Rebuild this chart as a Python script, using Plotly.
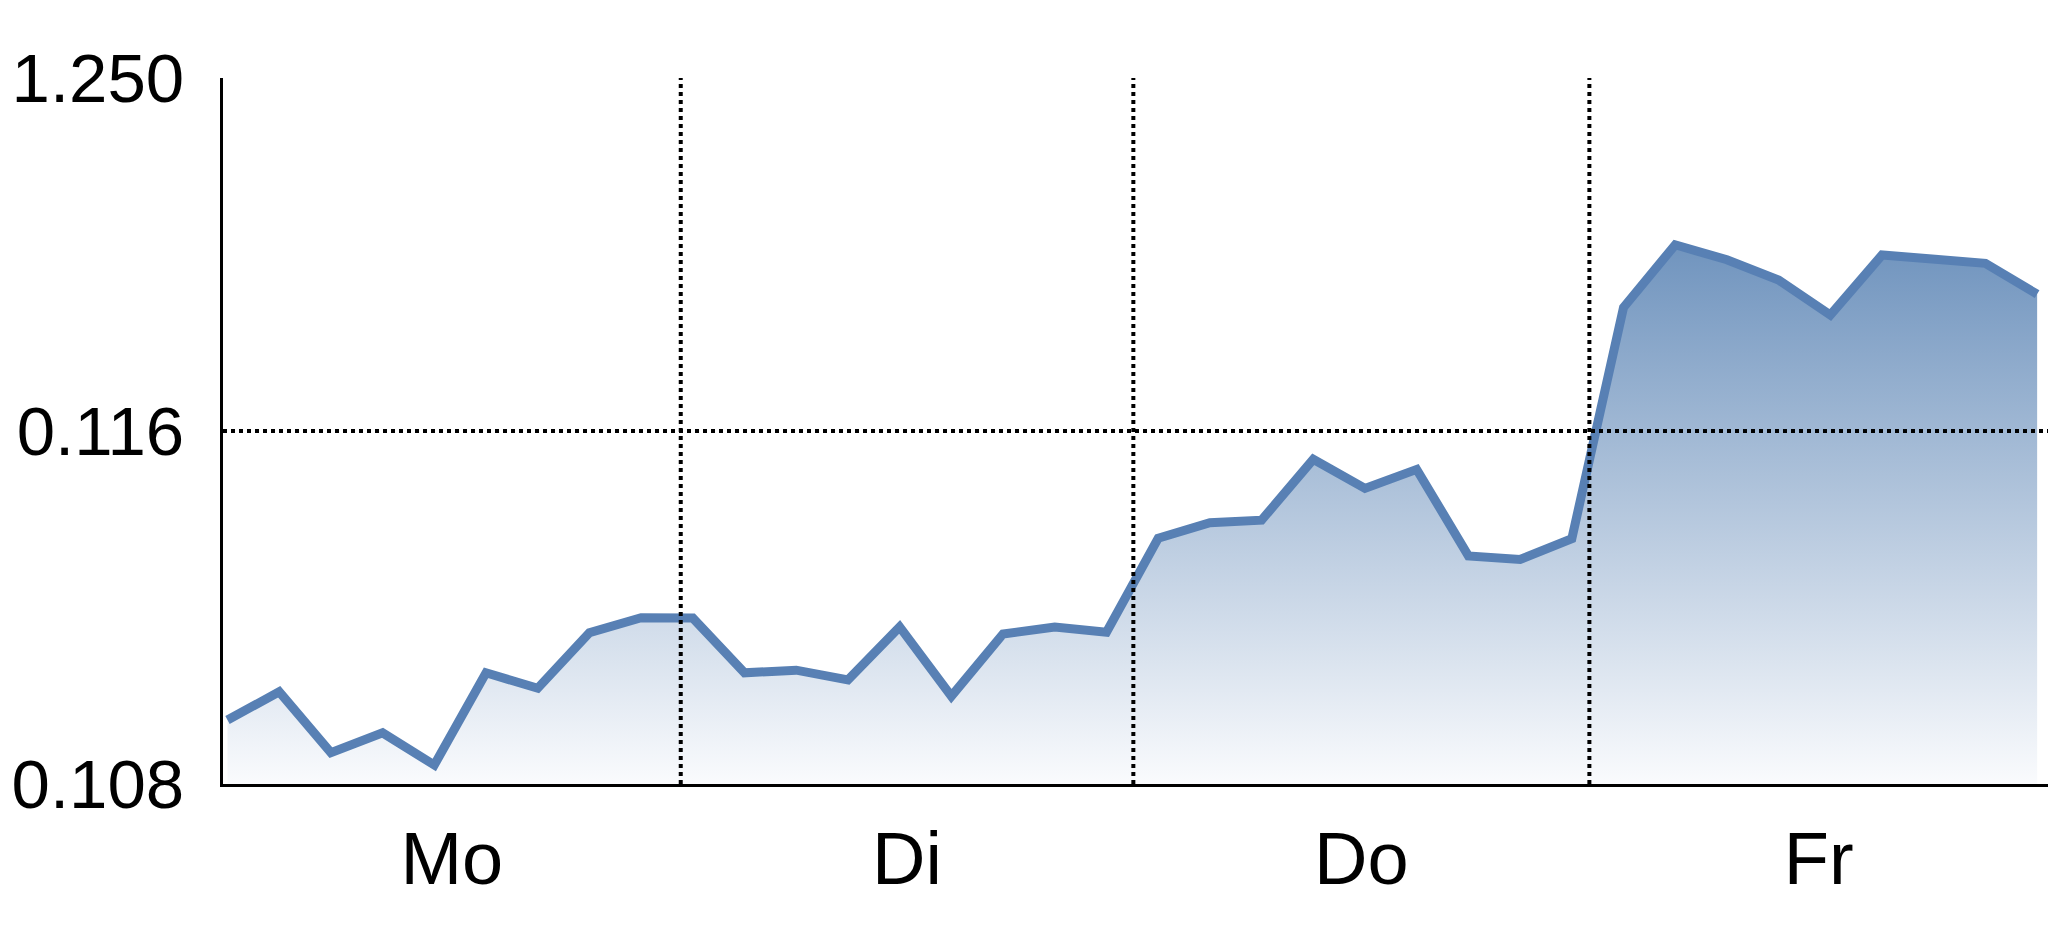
import plotly.graph_objects as go

# ---- data ----
values = [0.10945, 0.11009, 0.10871, 0.10916, 0.10843, 0.11052, 0.11017, 0.11143, 0.11177,
          0.11176, 0.11052, 0.11058, 0.11036, 0.11156, 0.10999, 0.11140, 0.11156, 0.11144,
          0.11357, 0.11392, 0.11398, 0.11536, 0.11470, 0.11513, 0.11317, 0.11309, 0.11356,
          0.11880, 0.12022, 0.11988, 0.11942, 0.11863, 0.11999, 0.11988, 0.11980, 0.11910]
x_index = list(range(len(values)))
day_labels = ["Mo", "Di", "Do", "Fr"]
day_bounds = [-0.087, 8.766, 17.52, 26.34, 35.21]   # section edges in point-index units
y_tick_vals = [0.108, 0.116, 0.124]
y_tick_text = ["0.108", "0.116", "1.250"]
y_min, y_max = 0.108, 0.124
grid_y = 0.116

line_color = "rgb(88,128,180)"
font_family = "Liberation Sans Narrow, Arial Narrow, Liberation Sans, Arial, sans-serif"

day_centers = [(day_bounds[i] + day_bounds[i + 1]) / 2 for i in range(len(day_labels))]

fig = go.Figure()
fig.add_trace(go.Scatter(
    x=x_index, y=values, mode="lines",
    line=dict(color=line_color, width=9),
    fill="tozeroy",
    fillgradient=dict(
        type="vertical",
        colorscale=[[0, "rgba(250,251,253,1)"], [1, "rgba(112,148,190,1)"]],
        start=y_min, stop=max(values),
    ),
    hoverinfo="skip", showlegend=False,
))

dot_line = dict(color="black", width=4, dash="4px,4px")
shapes = []
for b in day_bounds[1:-1]:
    shapes.append(dict(type="line", xref="x", yref="y", x0=b, x1=b, y0=y_min, y1=y_max,
                       line=dot_line, layer="above"))
shapes.append(dict(type="line", xref="paper", yref="y", x0=0, x1=1, y0=grid_y, y1=grid_y,
                   line=dot_line, layer="above"))

fig.update_layout(
    width=2048, height=937,
    margin=dict(l=223, r=0, t=78, b=153, autoexpand=False),
    paper_bgcolor="white", plot_bgcolor="white",
    font=dict(family=font_family, color="black", size=72),
    shapes=shapes,
    xaxis=dict(
        range=[day_bounds[0], day_bounds[-1]],
        tickmode="array", tickvals=day_centers, ticktext=day_labels,
        showgrid=False, zeroline=False, ticks="",
        showline=True, linecolor="black", linewidth=3,
        tickfont=dict(size=74, family=font_family),
        ticklabelstandoff=8, automargin=False,
    ),
    yaxis=dict(
        range=[y_min, y_max],
        tickmode="array", tickvals=y_tick_vals, ticktext=y_tick_text,
        showgrid=False, zeroline=False, ticks="",
        showline=True, linecolor="black", linewidth=3,
        tickfont=dict(size=69, family=font_family),
        ticklabelstandoff=22, automargin=False,
    ),
)

fig.write_html(
    "out.html",
    config={"displayModeBar": False},
    post_script="document.body.style.margin='0';document.body.style.overflow='hidden';",
)
